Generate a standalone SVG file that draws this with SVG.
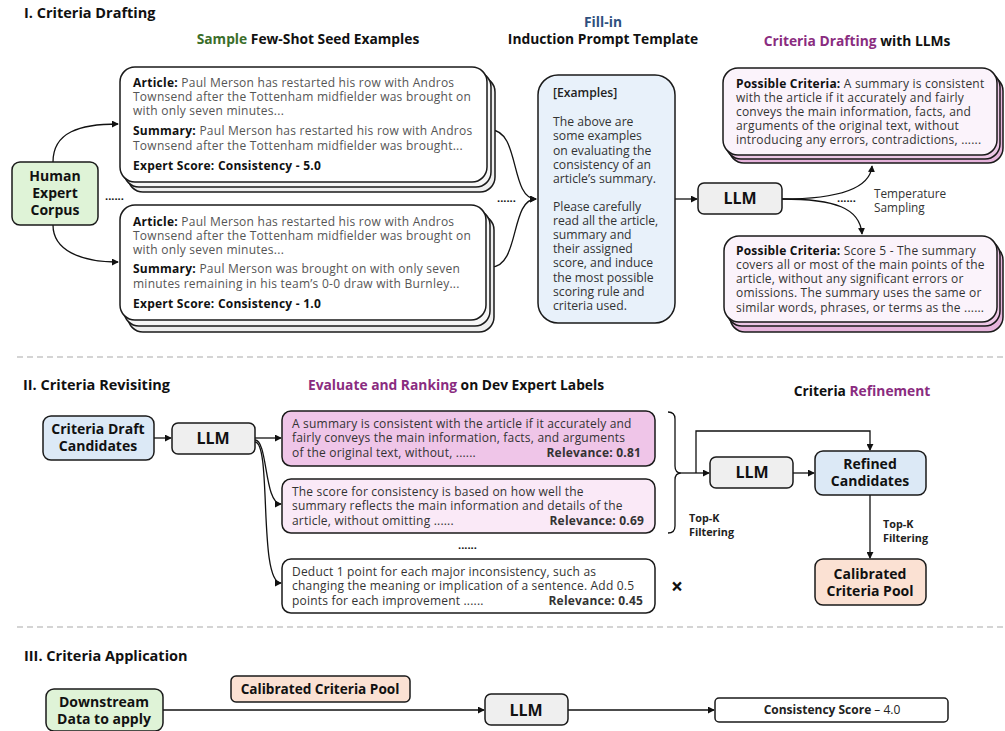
<svg xmlns="http://www.w3.org/2000/svg" width="1005" height="731" viewBox="0 0 1005 731">
<defs>
<marker id="ah" viewBox="0 0 8 8" refX="7" refY="4" markerWidth="7" markerHeight="7" markerUnits="userSpaceOnUse" orient="auto">
<path d="M0,0 L8,4 L0,8 z" fill="#111"/>
</marker>
<style>
text{font-family:"Open Sans","Noto Sans",sans-serif;}
.h{font-size:14.5px;font-weight:700;fill:#111;}
.sub{font-size:13.8px;font-weight:700;fill:#111;}
.box{stroke:#1a1a1a;stroke-width:1.5;}
.llm{fill:#efefef;stroke:#1a1a1a;stroke-width:1.5;}
.llmt{font-size:16px;font-weight:700;fill:#111;text-anchor:middle;}
.nb{font-size:14px;font-weight:700;fill:#111;text-anchor:middle;}
.seed{font-size:12px;letter-spacing:0.25px;fill:#555;}
.b{font-weight:700;fill:#111;}
.crit{font-size:12px;letter-spacing:0.2px;fill:#333;}
.tpl{font-size:12.2px;fill:#333;}
.con{fill:none;stroke:#111;stroke-width:1.3;}
.dots{font-size:11px;font-weight:700;fill:#111;}
.tk{font-size:10.8px;font-weight:700;fill:#222;}
.sep{stroke:#aaa;stroke-width:1.2;stroke-dasharray:6 4;}
</style>
</defs>

<!-- Section headings -->
<g id="headings">
<text class="h" x="24" y="18">I. Criteria Drafting</text>
<text class="sub" x="308" y="44" text-anchor="middle"><tspan fill="#3b6e2a">Sample</tspan> Few-Shot Seed Examples</text>
<text class="sub" x="603" y="27" text-anchor="middle" style="fill:#2e507e">Fill-in</text>
<text class="sub" x="603" y="44" text-anchor="middle">Induction Prompt Template</text>
<text class="sub" x="857" y="46" text-anchor="middle"><tspan fill="#8a2c80">Criteria Drafting</tspan> with LLMs</text>
<text class="h" x="23" y="390">II. Criteria Revisiting</text>
<text class="sub" x="456" y="390" text-anchor="middle"><tspan fill="#8a2c80">Evaluate and Ranking</tspan> on Dev Expert Labels</text>
<text class="sub" x="862" y="396" text-anchor="middle">Criteria <tspan fill="#8a2c80">Refinement</tspan></text>
<text class="h" x="24" y="661">III. Criteria Application</text>
</g>

<g id="separators">
<line class="sep" x1="17" y1="357" x2="1005" y2="357"/>
<line class="sep" x1="17" y1="627" x2="1005" y2="627"/>
</g>

<!-- Connectors -->
<g id="connectors">
<path class="con" d="M53,162 C53,132 80,124 118,124" marker-end="url(#ah)"/>
<path class="con" d="M53,225 C53,250 80,262 118,262" marker-end="url(#ah)"/>
<path class="con" d="M491,130 C520,130 510,199 536,199" marker-end="url(#ah)"/>
<path class="con" d="M491,267 C520,267 510,199 536,199" marker-end="url(#ah)"/>
<path class="con" d="M675,199 L697,199" marker-end="url(#ah)"/>
<path class="con" d="M782,199 C835,199 870,190 872,166" marker-end="url(#ah)"/>
<path class="con" d="M782,199 C835,199 860,208 862,234" marker-end="url(#ah)"/>
<path class="con" d="M154,438 L171,438" marker-end="url(#ah)"/>
<path class="con" d="M255,438 L281,438" marker-end="url(#ah)"/>
<path class="con" d="M255,440 C268,440 264,504 281,504" marker-end="url(#ah)"/>
<path class="con" d="M255,442 C272,442 258,583 281,583" marker-end="url(#ah)"/>
<path class="con" d="M668,412 Q675,412 675,419 L675,466 Q675,473 681,473 Q675,473 675,480 L675,526 Q675,533 668,533"/>
<path class="con" d="M681,473 L709,473" marker-end="url(#ah)"/>
<path class="con" d="M696,473 L696,431 L870,431 L870,450" marker-end="url(#ah)"/>
<path class="con" d="M793,473 L814,473" marker-end="url(#ah)"/>
<path class="con" d="M870,495 L870,558" marker-end="url(#ah)"/>
<path class="con" d="M163,710 L484,710" marker-end="url(#ah)"/>
<path class="con" d="M568,710 L714,710" marker-end="url(#ah)"/>
<text class="dots" x="105" y="200">......</text>
<text class="dots" x="497" y="202">......</text>
<text class="dots" x="837" y="202">......</text>
<text class="dots" x="458" y="549">......</text>
<text x="874" y="198" style="font-size:11.8px;fill:#333">Temperature</text>
<text x="874" y="212" style="font-size:11.8px;fill:#333">Sampling</text>
<text class="tk" x="689" y="522">Top-K</text>
<text class="tk" x="689" y="536">Filtering</text>
<text class="tk" x="883" y="528">Top-K</text>
<text class="tk" x="883" y="542">Filtering</text>
<text x="677" y="594" style="font-size:21px;font-weight:700;fill:#111" text-anchor="middle">×</text>
</g>

<!-- Section I nodes -->
<g id="human-corpus">
<rect class="box" x="12" y="162" width="86" height="63" rx="8" fill="#dff3d7"/>
<text class="nb" x="55" y="181">Human</text>
<text class="nb" x="55" y="198">Expert</text>
<text class="nb" x="55" y="215">Corpus</text>
</g>

<g id="seed-example-1">
<rect class="box" x="128" y="77" width="367" height="115" rx="15" fill="#eeeeee"/>
<rect class="box" x="124" y="72" width="367" height="115" rx="15" fill="#f6f6f6"/>
<rect class="box" x="120" y="67" width="367" height="115" rx="15" fill="#ffffff"/>
<text class="seed" x="133" y="87"><tspan class="b">Article:</tspan> Paul Merson has restarted his row with Andros</text>
<text class="seed" x="133" y="101">Townsend after the Tottenham midfielder was brought on</text>
<text class="seed" x="133" y="115">with only seven minutes...</text>
<text class="seed" x="133" y="135"><tspan class="b">Summary:</tspan> Paul Merson has restarted his row with Andros</text>
<text class="seed" x="133" y="150">Townsend after the Tottenham midfielder was brought...</text>
<text class="seed b" x="133" y="170">Expert Score: Consistency - 5.0</text>
</g>

<g id="seed-example-2">
<rect class="box" x="128" y="215" width="366" height="117" rx="15" fill="#eeeeee"/>
<rect class="box" x="124" y="210" width="366" height="116" rx="15" fill="#f6f6f6"/>
<rect class="box" x="120" y="205" width="366" height="115" rx="15" fill="#ffffff"/>
<text class="seed" x="133" y="226"><tspan class="b">Article:</tspan> Paul Merson has restarted his row with Andros</text>
<text class="seed" x="133" y="240">Townsend after the Tottenham midfielder was brought on</text>
<text class="seed" x="133" y="254">with only seven minutes...</text>
<text class="seed" x="133" y="273"><tspan class="b">Summary:</tspan> Paul Merson was brought on with only seven</text>
<text class="seed" x="133" y="288">minutes remaining in his team’s 0-0 draw with Burnley...</text>
<text class="seed b" x="133" y="308">Expert Score: Consistency - 1.0</text>
</g>

<g id="prompt-template">
<rect class="box" x="538" y="75" width="137" height="248" rx="20" fill="#e8f1fa"/>
<text class="tpl" x="553" y="97" style="font-weight:600;fill:#222">[Examples]</text>
<text class="tpl" x="553" y="126">The above are</text>
<text class="tpl" x="553" y="140">some examples</text>
<text class="tpl" x="553" y="155">on evaluating the</text>
<text class="tpl" x="553" y="169">consistency of an</text>
<text class="tpl" x="553" y="183">article’s summary.</text>
<text class="tpl" x="553" y="211">Please carefully</text>
<text class="tpl" x="553" y="225">read all the article,</text>
<text class="tpl" x="553" y="239">summary and</text>
<text class="tpl" x="553" y="253">their assigned</text>
<text class="tpl" x="553" y="267">score, and induce</text>
<text class="tpl" x="553" y="282">the most possible</text>
<text class="tpl" x="553" y="296">scoring rule and</text>
<text class="tpl" x="553" y="310">criteria used.</text>
</g>

<g id="llm-1">
<rect class="llm" x="698" y="183" width="84" height="31" rx="6"/>
<text class="llmt" x="740" y="204">LLM</text>
</g>

<g id="criteria-draft-1">
<rect class="box" x="729" y="76" width="274" height="87" rx="15" fill="#e6b4dc"/>
<rect class="box" x="726" y="72" width="274" height="87" rx="15" fill="#edc7e6"/>
<rect class="box" x="723" y="68" width="274" height="87" rx="15" fill="#fbf3fb"/>
<text class="crit" x="736" y="88"><tspan class="b">Possible Criteria:</tspan>  A summary is consistent</text>
<text class="crit" x="736" y="102">with the article if it accurately and fairly</text>
<text class="crit" x="736" y="116">conveys the main information, facts, and</text>
<text class="crit" x="736" y="130">arguments of the original text, without</text>
<text class="crit" x="736" y="144">introducing any errors, contradictions, ......</text>
</g>

<g id="criteria-draft-2">
<rect class="box" x="730" y="245" width="273" height="87" rx="15" fill="#e6b4dc"/>
<rect class="box" x="727" y="240" width="273" height="86" rx="15" fill="#edc7e6"/>
<rect class="box" x="724" y="236" width="273" height="86" rx="15" fill="#fbf3fb"/>
<text class="crit" x="736" y="255"><tspan class="b">Possible Criteria:</tspan>  Score 5 - The summary</text>
<text class="crit" x="736" y="269">covers all or most of the main points of the</text>
<text class="crit" x="736" y="283">article, without any significant errors or</text>
<text class="crit" x="736" y="297">omissions. The summary uses the same or</text>
<text class="crit" x="736" y="312">similar words, phrases, or terms as the ......</text>
</g>

<!-- Section II nodes -->
<g id="criteria-draft-candidates">
<rect class="box" x="43" y="416" width="111" height="44" rx="8" fill="#dce9f6"/>
<text class="nb" x="98" y="434">Criteria Draft</text>
<text class="nb" x="98" y="451">Candidates</text>
</g>

<g id="llm-2">
<rect class="llm" x="172" y="423" width="83" height="31" rx="6"/>
<text class="llmt" x="213" y="444">LLM</text>
</g>

<g id="ranked-1">
<rect class="box" x="282" y="411" width="373" height="55" rx="9" fill="#efc5e8"/>
<text class="crit" x="292" y="428">A summary is consistent with the article if it accurately and</text>
<text class="crit" x="292" y="442">fairly conveys the main information, facts, and arguments</text>
<text class="crit" x="292" y="457">of the original text, without, ......</text>
<text class="crit b" x="641" y="457" text-anchor="end">Relevance: 0.81</text>
</g>

<g id="ranked-2">
<rect class="box" x="282" y="479" width="373" height="54" rx="9" fill="#fae9f7"/>
<text class="crit" x="292" y="496">The score for consistency is based on how well the</text>
<text class="crit" x="292" y="510">summary reflects the main information and details of the</text>
<text class="crit" x="292" y="525">article, without omitting ......</text>
<text class="crit b" x="644" y="525" text-anchor="end">Relevance: 0.69</text>
</g>

<g id="ranked-3">
<rect class="box" x="282" y="559" width="373" height="54" rx="9" fill="#ffffff"/>
<text class="crit" x="292" y="576">Deduct 1 point for each major inconsistency, such as</text>
<text class="crit" x="292" y="590">changing the meaning or implication of a sentence. Add 0.5</text>
<text class="crit" x="292" y="605">points for each improvement ......</text>
<text class="crit b" x="643" y="605" text-anchor="end">Relevance: 0.45</text>
</g>

<g id="llm-3">
<rect class="llm" x="710" y="457" width="83" height="31" rx="6"/>
<text class="llmt" x="752" y="478">LLM</text>
</g>

<g id="refined-candidates">
<rect class="box" x="815" y="451" width="111" height="44" rx="8" fill="#dce9f6"/>
<text class="nb" x="870" y="469">Refined</text>
<text class="nb" x="870" y="486">Candidates</text>
</g>

<g id="calibrated-pool">
<rect class="box" x="815" y="559" width="111" height="46" rx="8" fill="#fbe1d3"/>
<text class="nb" x="870" y="579">Calibrated</text>
<text class="nb" x="870" y="596">Criteria Pool</text>
</g>

<!-- Section III nodes -->
<g id="downstream-data">
<rect class="box" x="46" y="689" width="117" height="42" rx="8" fill="#dff3d7"/>
<text class="nb" x="104" y="707">Downstream</text>
<text class="nb" x="104" y="724">Data to apply</text>
</g>

<g id="calibrated-pool-label">
<rect class="box" x="231" y="676" width="179" height="26" rx="5" fill="#fbe1d3"/>
<text x="320" y="694" text-anchor="middle" style="font-size:13.6px;font-weight:700;fill:#111">Calibrated Criteria Pool</text>
</g>

<g id="llm-4">
<rect class="llm" x="485" y="694" width="83" height="31" rx="6"/>
<text class="llmt" x="526" y="716">LLM</text>
</g>

<g id="consistency-score">
<rect class="box" x="715" y="698" width="233" height="24" rx="4" fill="#ffffff"/>
<text x="832" y="714" text-anchor="middle" style="font-size:12px;fill:#222"><tspan font-weight="700">Consistency Score</tspan> – 4.0</text>
</g>
</svg>
